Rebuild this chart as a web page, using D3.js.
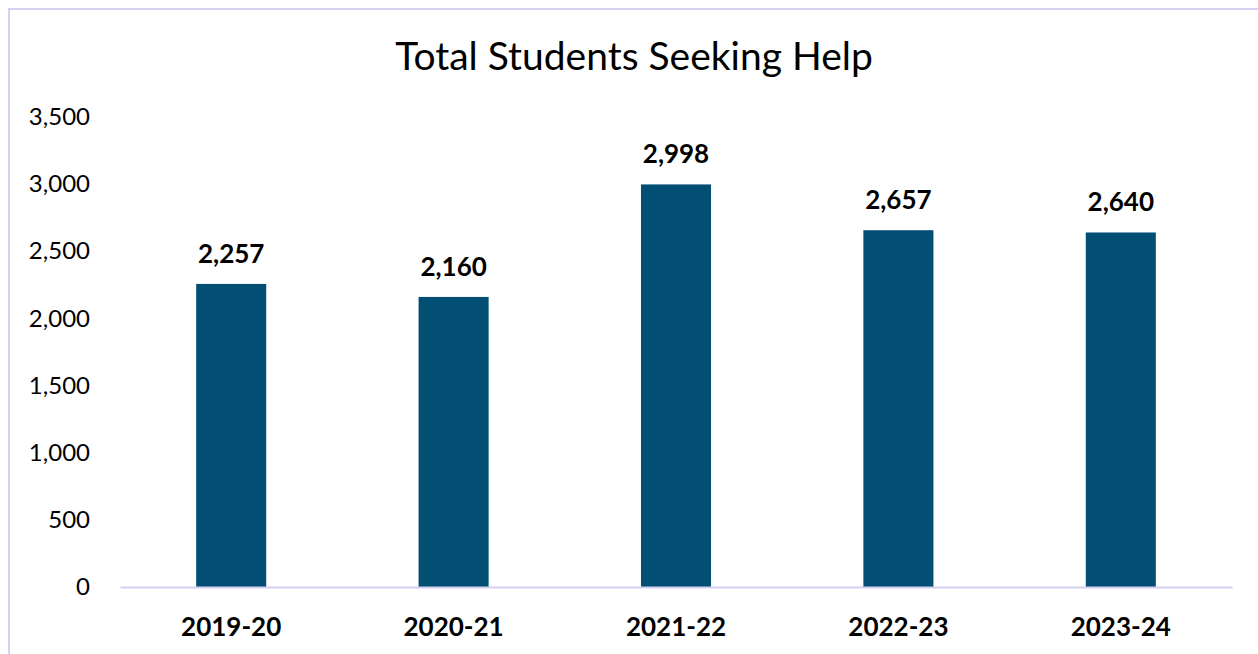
<!DOCTYPE html>
<html>
<head>
<meta charset="utf-8">
<script src="https://cdn.jsdelivr.net/npm/d3@7"></script>
<style>
  html, body { margin: 0; padding: 0; background: #fff; }
  svg { display: block; }
  text { font-family: Lato, "Open Sans", sans-serif; }
</style>
</head>
<body>
<svg id="chart" width="1258" height="654"></svg>
<script>
// Academic years and total students seeking help
const years = ["2019-20", "2020-21", "2021-22", "2022-23", "2023-24"];
const students = [2257, 2160, 2998, 2657, 2640];
const yTicks = [0, 500, 1000, 1500, 2000, 2500, 3000, 3500];
const chartTitle = "Total Students Seeking Help";

const svg = d3.select("#chart");
const W = 1258, H = 654;
const margin = { left: 120, right: 26, top: 117, bottom: 67 };

// Outer frame (runs off the right and bottom edges)
svg.append("rect")
  .attr("x", 9).attr("y", 9)
  .attr("width", W + 20).attr("height", H + 20)
  .attr("fill", "#fff")
  .attr("stroke", "#D4D0F0").attr("stroke-width", 2);

const x = d3.scaleBand()
  .domain(years)
  .range([margin.left, W - margin.right])
  .paddingInner(0.685)
  .paddingOuter(0.3425);

const y = d3.scaleLinear()
  .domain([0, 3500])
  .range([H - margin.bottom, margin.top]);

// Title
svg.append("text")
  .attr("x", 634).attr("y", 70)
  .attr("text-anchor", "middle")
  .attr("font-size", 39)
  .attr("fill", "#000")
  .text(chartTitle);

// Y axis labels only
const yAxis = d3.axisLeft(y)
  .tickValues(yTicks)
  .tickFormat(d3.format(","))
  .tickSize(0)
  .tickPadding(0);
const gy = svg.append("g")
  .attr("transform", `translate(90,0)`)
  .call(yAxis);
gy.select(".domain").remove();
gy.selectAll("text")
  .attr("font-size", 24)
  .attr("fill", "#000")
  .attr("font-family", "Lato, 'Open Sans', sans-serif");

// Bars
svg.append("g").selectAll("rect")
  .data(years)
  .join("rect")
  .attr("x", d => x(d))
  .attr("width", x.bandwidth())
  .attr("y", (d, i) => y(students[i]))
  .attr("height", (d, i) => y(0) - y(students[i]))
  .attr("fill", "#034F74");

// Value labels
svg.append("g").selectAll("text")
  .data(years)
  .join("text")
  .attr("x", d => x(d) + x.bandwidth() / 2)
  .attr("y", (d, i) => y(students[i]) - 21)
  .attr("text-anchor", "middle")
  .attr("font-size", 26)
  .attr("font-weight", "bold")
  .attr("fill", "#000")
  .text((d, i) => d3.format(",")(students[i]));

// X axis baseline and category labels
const xAxis = d3.axisBottom(x).tickSize(0).tickPadding(0);
const gx = svg.append("g")
  .attr("transform", `translate(0,${y(0)})`)
  .call(xAxis);
gx.select(".domain")
  .attr("stroke", "#D4D0F0").attr("stroke-width", 2);
gx.selectAll("text")
  .attr("dy", 0)
  .attr("y", 49)
  .attr("font-size", 26)
  .attr("font-weight", "bold")
  .attr("fill", "#000")
  .attr("font-family", "Lato, 'Open Sans', sans-serif");
</script>
</body>
</html>
